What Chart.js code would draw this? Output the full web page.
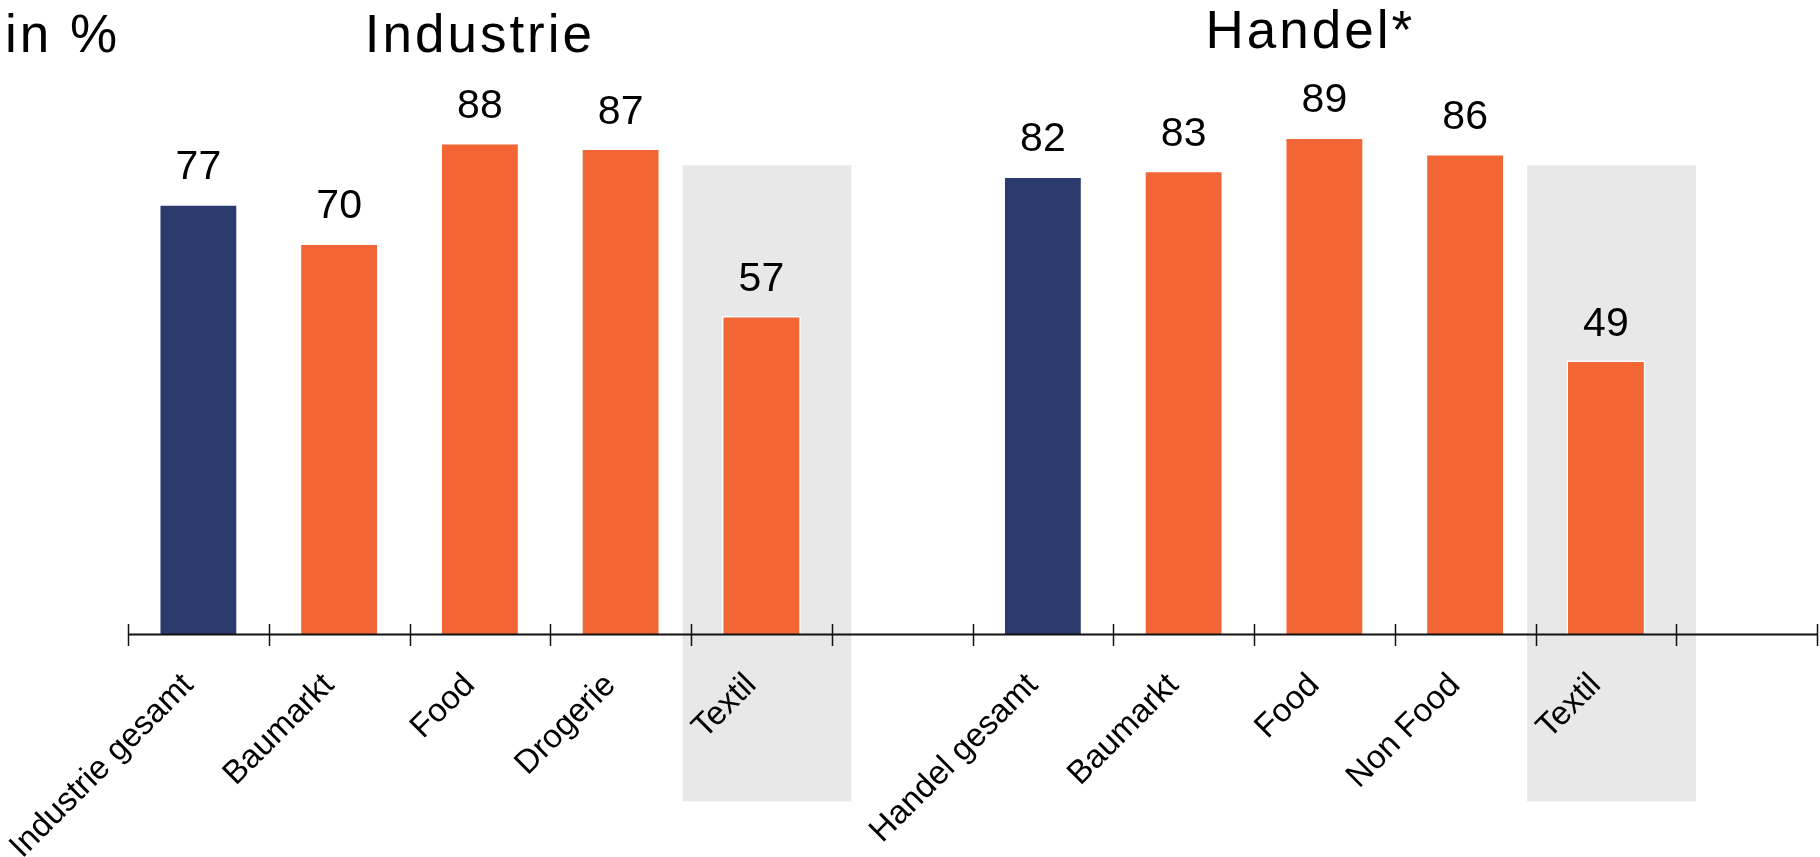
<!DOCTYPE html>
<html>
<head>
<meta charset="utf-8">
<script src="https://cdn.jsdelivr.net/npm/chart.js@4/dist/chart.umd.min.js"></script>
<style>
  html, body { margin: 0; padding: 0; background: #fff; }
  #wrap { width: 1820px; height: 857px; position: relative; }
</style>
</head>
<body>
<div id="wrap"><canvas id="chart"></canvas></div>
<script>
// data
const categories = ['Industrie gesamt', 'Baumarkt', 'Food', 'Drogerie', 'Textil', '',
                    'Handel gesamt', 'Baumarkt', 'Food', 'Non Food', 'Textil', ''];
const values = [77, 70, 88, 87, 57, null, 82, 83, 89, 86, 49, null];
const totalIndex = [0, 6];          // "gesamt" bars in navy
const highlightIndex = [4, 10];     // Textil columns with grey box
const groupTitles = ['Industrie', 'Handel*'];
const groupCenters = [2, 7.9];
const unitLabel = 'in %';

const NAVY = '#2b3b6e';
const ORANGE = '#f26535';
const GREY = '#e8e8e8';
const FONT = '"Liberation Sans", Arial, sans-serif';

const barColors = values.map((v, i) => totalIndex.includes(i) ? NAVY : ORANGE);

const decor = {
  id: 'decor',
  beforeDraw(chart) {
    const { ctx, scales: { x, y } } = chart;
    const slot = x.getPixelForValue(1) - x.getPixelForValue(0);
    ctx.save();
    ctx.fillStyle = GREY;
    highlightIndex.forEach(i => {
      const l = x.getPixelForValue(i) - 0.56 * slot;
      const r = x.getPixelForValue(i) + 0.64 * slot;
      const t = y.getPixelForValue(84);
      const b = y.getPixelForValue(-30);
      ctx.fillRect(l, t, r - l, b - t);
    });
    ctx.restore();
  },
  afterDraw(chart) {
    const { ctx, scales: { x, y } } = chart;
    const slot = x.getPixelForValue(1) - x.getPixelForValue(0);
    const base = y.getPixelForValue(0);
    ctx.save();
    // axis line + ticks at category boundaries
    ctx.strokeStyle = '#111';
    ctx.lineWidth = 2;
    const x0 = x.getPixelForValue(0) - slot / 2;
    const x1 = x.getPixelForValue(categories.length - 1) + slot / 2;
    ctx.beginPath();
    ctx.moveTo(x0, base + 0.5);
    ctx.lineTo(x1, base + 0.5);
    ctx.stroke();
    ctx.lineWidth = 1.5;
    for (let i = 0; i <= categories.length; i++) {
      const px = Math.round(x0 + i * slot) + 0.5;
      ctx.beginPath();
      ctx.moveTo(px, base - 10);
      ctx.lineTo(px, base + 12);
      ctx.stroke();
    }
    // value labels
    ctx.fillStyle = '#000';
    ctx.font = '41px ' + FONT;
    ctx.textAlign = 'center';
    ctx.textBaseline = 'alphabetic';
    values.forEach((v, i) => {
      if (v == null) return;
      ctx.fillText(String(v), x.getPixelForValue(i), y.getPixelForValue(v) - 25);
    });
    // titles
    ctx.font = '53px ' + FONT;
    ctx.letterSpacing = '3px';
    ctx.textAlign = 'left';
    ctx.fillText(unitLabel, 5, 52);
    ctx.textAlign = 'center';
    ctx.fillText(groupTitles[0], x.getPixelForValue(groupCenters[0]), 52);
    ctx.fillText(groupTitles[1], x.getPixelForValue(groupCenters[1]), 48);
    ctx.restore();
  }
};

new Chart(document.getElementById('chart'), {
  type: 'bar',
  data: {
    labels: categories,
    datasets: [{
      data: values,
      backgroundColor: barColors,
      borderColor: '#ffffff',
      borderWidth: 1.5,
      barPercentage: 0.56,
      categoryPercentage: 1
    }]
  },
  options: {
    responsive: true,
    maintainAspectRatio: false,
    animation: false,
    layout: { padding: { left: 128, right: 3, top: 76, bottom: 0 } },
    plugins: { legend: { display: false }, tooltip: { enabled: false } },
    scales: {
      x: {
        grid: { display: false, drawTicks: false },
        border: { display: false },
        ticks: {
          color: '#000',
          font: { family: FONT, size: 33 },
          maxRotation: 45,
          minRotation: 45,
          padding: 32,
          labelOffset: -10,
          autoSkip: false
        },
        afterFit(scale) {
          scale.height = 223;
          scale.paddingLeft = 0;
          scale.paddingRight = 0;
        }
      },
      y: {
        display: false,
        min: 0,
        max: 100
      }
    }
  },
  plugins: [decor]
});
</script>
</body>
</html>
